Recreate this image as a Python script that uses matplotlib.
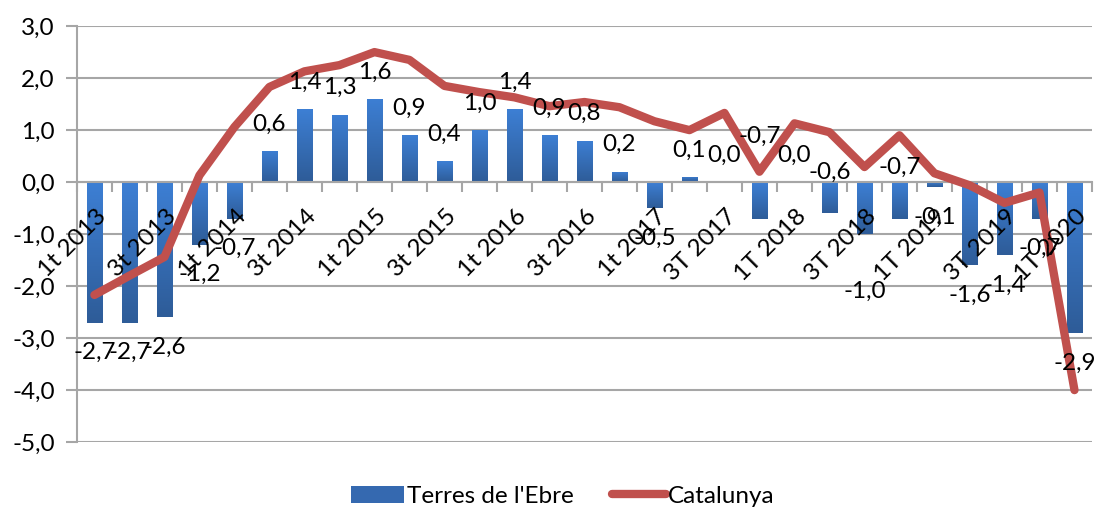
import numpy as np
import matplotlib.pyplot as plt
from matplotlib.lines import Line2D
from matplotlib.patches import Patch
from matplotlib.colors import LinearSegmentedColormap

plt.rcParams['font.family'] = ['Lato', 'DejaVu Sans']

# dades
trimestres = ['1t 2013', '2t 2013', '3t 2013', '4t 2013',
              '1t 2014', '2t 2014', '3t 2014', '4t 2014',
              '1t 2015', '2t 2015', '3t 2015', '4t 2015',
              '1t 2016', '2t 2016', '3t 2016', '4t 2016',
              '1t 2017', '2T 2017', '3T 2017', '4T 2017',
              '1T 2018', '2T 2018', '3T 2018', '4T 2018',
              '1T 2019', '2T 2019', '3T 2019', '4T 2019',
              '1T 2020']
ebre = [-2.7, -2.7, -2.6, -1.2, -0.7, 0.6, 1.4, 1.3, 1.6, 0.9, 0.4, 1.0, 1.4, 0.9, 0.8,
        0.2, -0.5, 0.1, 0.0, -0.7, 0.0, -0.6, -1.0, -0.7, -0.1, -1.6, -1.4, -0.7, -2.9]
catalunya = [-2.17, -1.8, -1.44, 0.13, 1.06, 1.83, 2.13, 2.25, 2.5, 2.35, 1.85, 1.73, 1.63, 1.46,
             1.54, 1.44, 1.17, 1.0, 1.33, 0.2, 1.13, 0.96, 0.29, 0.9, 0.17, -0.06, -0.4, -0.2, -4.0]

# desplacament manual d'algunes etiquetes (unitats de l'eix y)
despl = {19: 1.58, 21: 0.79, 22: -1.1, 23: 0.99}

FS = 17.5
x = np.arange(len(trimestres))
fig = plt.figure(figsize=(10.99, 5.07), dpi=100)
ax = fig.add_axes([0.070, 0.128, 0.9236, 0.8205])

barres = ax.bar(x, ebre, width=0.43, color='#3b76c4', zorder=2)
# degradat dins de cada barra (clar a dalt, fosc a baix)
grad = np.linspace(0, 1, 100).reshape(-1, 1)
cm = LinearSegmentedColormap.from_list('b', ['#3d7fd4', '#2e5c98'])
for b, v in zip(barres, ebre):
    if v == 0:
        continue
    x0, y0 = b.get_x(), b.get_y()
    w, h = b.get_width(), b.get_height()
    lo, hi = min(y0, y0 + h), max(y0, y0 + h)
    im = ax.imshow(grad, extent=[x0, x0 + w, lo, hi], aspect='auto', cmap=cm,
                   zorder=2.1, origin='upper')
    im.set_clip_path(b)

ax.plot(x, catalunya, color='#c0504d', lw=6, solid_capstyle='round',
        solid_joinstyle='round', zorder=4)

for i, v in enumerate(ebre):
    if i in despl:
        yy = v + despl[i]
    elif v >= 0:
        yy = v + 0.52
    else:
        yy = v - 0.58
    ax.text(i, yy, f'{v:.1f}'.replace('.', ','), ha='center', va='center',
            fontsize=FS, zorder=5)

ax.set_xlim(-0.5, len(x) - 0.5)
ax.set_ylim(-5, 3)
ax.set_yticks(np.arange(-5, 4))
ax.set_yticklabels([f'{t:.1f}'.replace('.', ',') for t in np.arange(-5, 4)], fontsize=FS)
ax.grid(axis='y', color='#a6a6a6', lw=1.5, zorder=0)
ax.tick_params(axis='y', length=8, width=1.5, color='#a6a6a6', pad=8)

ax.spines['top'].set_visible(False)
ax.spines['right'].set_visible(False)
ax.spines['left'].set_color('#a6a6a6')
ax.spines['left'].set_linewidth(1.5)
ax.spines['bottom'].set_position(('data', 0))
ax.spines['bottom'].set_color('#a6a6a6')
ax.spines['bottom'].set_linewidth(1.5)
ax.set_xticks(np.arange(-0.5, len(x), 1))
ax.set_xticklabels([])
ax.tick_params(axis='x', length=7, width=1.5, color='#a6a6a6', direction='out')

for i in range(0, len(x), 2):
    ax.annotate(trimestres[i], xy=(i, 0), xytext=(1, -17), textcoords='offset points',
                ha='right', va='top', rotation=45, rotation_mode='anchor',
                fontsize=FS, zorder=6)

handles = [Patch(facecolor='#3569b0', edgecolor='none'),
           Line2D([0], [0], color='#c0504d', lw=6, solid_capstyle='round')]
fig.legend(handles, ["Terres de l'Ebre", 'Catalunya'], loc='lower center',
           bbox_to_anchor=(0.512, -0.043), ncol=2, frameon=False, fontsize=FS,
           handlelength=2.2, handletextpad=0.1, columnspacing=1.6)

fig.savefig('out.png', dpi=100)
